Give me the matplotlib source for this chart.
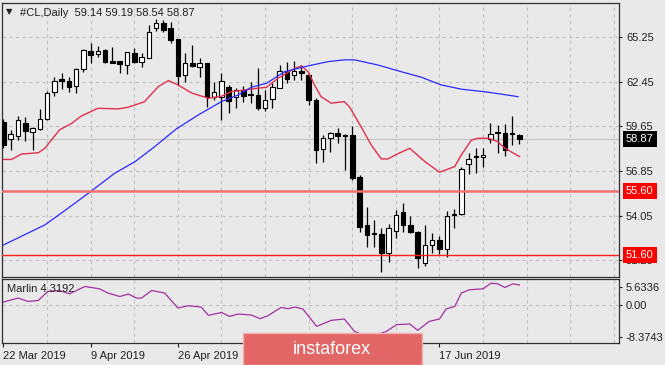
import numpy as np
import matplotlib
matplotlib.use("Agg")
import matplotlib.pyplot as plt
from matplotlib.patches import Rectangle

plt.rcParams['font.family'] = ['Liberation Sans', 'DejaVu Sans']

# ================= 1. 数据 =================
opens = [59.95, 58.87, 59.05, 59.85, 59.32, 59.49, 60.14, 61.82, 62.63, 62.53,
         62.19, 63.28, 64.39, 64.20, 64.45, 63.76, 63.78, 63.51, 64.28, 63.72,
         63.97, 65.81, 66.13, 65.81, 65.12, 62.88, 63.66, 63.37, 63.62, 61.52,
         61.48, 62.15, 61.48, 61.94, 61.69, 61.63, 60.83, 61.36, 62.09, 63.09,
         62.88, 63.15, 62.88, 61.31, 58.24, 58.91, 59.26, 59.12, 59.12, 56.46,
         53.47, 52.95, 52.88, 51.69, 53.11, 54.30, 53.47, 53.05, 51.10, 52.21,
         52.52, 51.96, 54.09, 54.14, 57.30, 57.78, 57.75, 58.85, 59.22, 59.22,
         59.26, 59.14]
highs = [60.10, 59.43, 60.31, 60.23, 59.64, 60.73, 61.88, 62.78, 62.99, 62.78,
         63.30, 64.50, 64.87, 64.70, 64.50, 64.62, 63.78, 64.35, 64.56, 64.25,
         66.02, 66.38, 66.34, 66.23, 65.14, 64.28, 64.77, 63.93, 63.66, 62.46,
         62.99, 62.26, 62.05, 62.19, 62.46, 63.30, 61.94, 62.36, 63.51, 63.72,
         63.76, 63.51, 62.99, 61.42, 59.12, 59.32, 59.58, 59.16, 59.70, 56.61,
         54.62, 53.78, 53.26, 53.51, 54.41, 54.83, 54.03, 53.09, 53.47, 52.95,
         52.78, 54.36, 54.45, 57.13, 57.97, 58.28, 58.28, 59.89, 59.74, 59.81,
         60.31, 59.19]
lows = [58.30, 58.18, 58.80, 58.76, 58.18, 59.43, 60.06, 61.57, 62.00, 61.84,
        61.77, 63.05, 63.62, 64.03, 63.62, 63.62, 62.99, 62.95, 63.62, 63.40,
        63.93, 65.66, 65.60, 64.87, 62.26, 62.46, 63.40, 62.78, 60.89, 61.31,
        60.06, 60.48, 60.79, 61.21, 61.11, 60.69, 60.62, 60.79, 62.05, 62.36,
        62.57, 62.57, 61.00, 57.34, 57.44, 58.07, 58.60, 56.92, 56.29, 53.05,
        52.10, 52.10, 50.54, 51.16, 52.63, 53.05, 52.95, 50.75, 50.89, 51.69,
        51.65, 51.48, 53.26, 54.10, 56.67, 56.75, 57.13, 58.60, 57.97, 57.80,
        58.49, 58.54]
closes = [58.50, 59.16, 60.06, 59.39, 59.53, 60.10, 61.77, 62.53, 62.49, 62.15,
          63.24, 64.45, 64.14, 64.41, 63.68, 63.66, 63.56, 64.31, 63.72, 63.99,
          65.60, 66.13, 65.71, 65.08, 62.82, 63.62, 63.45, 63.66, 61.52, 61.84,
          62.51, 61.27, 61.94, 61.56, 61.61, 60.79, 61.31, 62.15, 63.15, 62.63,
          63.13, 62.99, 61.31, 58.18, 58.95, 59.26, 59.05, 59.04, 56.40, 53.36,
          52.84, 52.88, 51.69, 53.26, 54.10, 53.47, 53.05, 51.38, 52.21, 52.52,
          51.96, 54.05, 54.11, 56.96, 57.59, 57.72, 57.86, 59.18, 59.29, 58.18,
          59.16, 58.87]

# 红色均线
ma_fast_x = [0, 1.1, 2.5, 4.8, 5.7, 6.6, 7.7, 9.4, 10.7, 13.0, 15.8, 17.2, 19.4,
             21.3, 22.7, 24.0, 25.9, 28.2, 30.0, 31.4, 33.2, 35.0, 36.2, 37.8,
             40.1, 41.0, 41.9, 42.8, 43.7, 45.1, 46.9, 47.6, 49.2, 50.6, 52.0,
             52.9, 54.1, 55.9, 58.0, 60.0, 62.1, 63.0, 64.4, 65.3, 66.7, 68.0,
             69.0, 71.0]
ma_fast_y = [57.58, 57.58, 57.92, 58.00, 58.28, 58.80, 59.43, 59.85, 60.30,
             60.79, 60.75, 60.86, 61.20, 62.15, 62.53, 62.26, 61.75, 61.42,
             61.55, 61.84, 61.94, 62.05, 62.11, 62.68, 63.30, 63.45, 63.09,
             62.26, 61.52, 61.11, 61.21, 60.89, 59.64, 58.49, 57.61, 57.61,
             57.90, 58.28, 57.44, 56.78, 57.13, 57.86, 58.80, 58.91, 58.91,
             58.70, 58.28, 57.76]

# 蓝色均线
ma_slow_x = [0, 5.7, 8.9, 12.1, 15.3, 18.1, 20.8, 23.8, 26.8, 30.0, 32.3, 34.1,
             36.2, 38.7, 41.9, 44.7, 46.9, 48.3, 51.5, 54.7, 57.5, 60.2, 63.0,
             66.7, 70.8]
ma_slow_y = [52.21, 53.47, 54.52, 55.60, 56.71, 57.44, 58.38, 59.50, 60.37,
             61.21, 61.63, 62.11, 62.36, 63.09, 63.45, 63.72, 63.83, 63.83,
             63.51, 63.09, 62.74, 62.26, 61.99, 61.80, 61.52]

# Marlin 指标
marlin_x = [0, 2.0, 3.4, 4.8, 6.1, 7.7, 9.1, 11.2, 13.2, 14.4, 16.0, 17.2, 18.3,
            19.0, 20.4, 22.2, 24.0, 25.4, 27.2, 28.2, 30.0, 31.1, 32.3, 34.1,
            35.3, 36.4, 38.2, 39.2, 40.1, 41.2, 43.1, 45.1, 46.9, 48.3, 50.3,
            52.7, 54.1, 55.9, 57.0, 58.6, 60.0, 60.9, 62.1, 63.0, 64.1, 66.0,
            67.1, 68.0, 69.0, 70.1, 71.0]
marlin_y = [0.59, 1.46, 0.72, 0.94, 2.90, 3.12, 2.40, 3.99, 3.49, 2.55, 1.81,
            2.33, 1.46, 1.46, 3.12, 2.55, -0.72, -0.22, -0.50, -2.33, -1.68,
            -2.55, -2.03, -2.25, -3.05, -2.40, -0.59, -0.87, -0.50, -0.94,
            -4.73, -3.42, -3.12, -5.82, -7.19, -5.82, -4.36, -4.21, -5.60,
            -3.64, -3.12, -0.94, -0.37, 2.55, 3.27, 3.49, 4.73, 4.58, 3.77,
            4.58, 4.32]

price_ticks = [65.25, 62.45, 59.65, 56.85, 54.05, 51.25]
level_lines = [55.60, 51.60]
last_price = 58.87
# 中间两个日期被横幅遮住，不显示文字
date_pos = [0, 12, 24, 36, 48, 60]
date_labels = ["22 Mar 2019", "9 Apr 2019", "26 Apr 2019", "", "", "17 Jun 2019"]
osc_ticks = [3.95, 0.0, -7.0]
osc_labels = ["5.6336", "0.00", "-8.3743"]

# ================= 2. 画布 =================
W, H = 665, 365
BG = '#e9e9e9'
GRID = '#c2c2c2'
fig = plt.figure(figsize=(W / 100, H / 100), dpi=100, facecolor=BG)

def fx(px):
    return px / W

def fy(py):
    return 1 - py / H

ax = fig.add_axes([fx(2), fy(277), fx(619) - fx(2), fy(2.5) - fy(277)], facecolor=BG)
ax2 = fig.add_axes([fx(2), fy(343), fx(619) - fx(2), fy(279) - fy(343)], facecolor=BG)

XMIN, XMAX = -0.2, 84.7
grid_x = np.arange(6, 85, 6)

for a in (ax, ax2):
    a.set_xlim(XMIN, XMAX)
    for s in a.spines.values():
        s.set_color('#303030')
        s.set_linewidth(0.9)
    a.yaxis.tick_right()
    a.tick_params(axis='y', direction='out', length=2.5, width=0.8, pad=2.5,
                  labelsize=8, colors='#202020')
    a.set_xticks(grid_x, minor=True)
    a.tick_params(axis='x', which='minor', length=0)
    a.grid(True, axis='x', which='minor', ls=(0, (3, 3)), color=GRID, lw=0.8)
    a.set_axisbelow(True)

# ================= 3. K线 =================
o = np.array(opens)
h = np.array(highs)
l = np.array(lows)
c = np.array(closes)
idx = np.arange(len(o))
up = c >= o

ax.set_ylim(50.2, 67.43)
ax.set_yticks(price_ticks)
ax.set_yticklabels([f"{v:.2f}" for v in price_ticks])
ax.set_xticks([])
ax.grid(True, axis='y', ls=(0, (3, 3)), color=GRID, lw=0.8)

ax.axhline(last_price, color='#c4c4c4', lw=0.9, zorder=1)

ax.vlines(idx, l, h, color='black', lw=0.9, zorder=3)
body_bottom = np.minimum(o, c)
body_h = np.maximum(np.abs(c - o), 0.06)
ax.bar(idx, body_h, bottom=body_bottom, width=0.62,
       color=np.where(up, 'white', 'black'), edgecolor='black', lw=0.8, zorder=4)

ax.plot(ma_fast_x, ma_fast_y, color='#e0304c', lw=1.0, zorder=5)
ax.plot(ma_slow_x, ma_slow_y, color='#2a2aff', lw=0.9, zorder=5)

ax.axhline(level_lines[0], color='#f07272', lw=1.8, zorder=6)
ax.axhline(level_lines[1], color='#ff2020', lw=1.0, zorder=6)

# 右侧价格标签
tr = ax.get_yaxis_transform()
for val, fc in [(last_price, 'black'), (level_lines[0], '#ff0000'), (level_lines[1], '#ff0000')]:
    ax.text(1.0113, val, f"{val:.2f}", transform=tr, ha='left', va='center',
            fontsize=8, color='white', clip_on=False, zorder=10,
            bbox=dict(boxstyle='square,pad=0.28', fc=fc, ec='none'))

# ================= 4. Marlin 指标 =================
ax2.set_ylim(-8.3743, 5.6336)
ax2.set_yticks(osc_ticks)
ax2.set_yticklabels(osc_labels)
ax2.axhline(0, ls=(0, (3, 3)), color=GRID, lw=0.8, zorder=0)
ax2.plot(marlin_x, marlin_y, color='#a22fa2', lw=0.9)

ax2.set_xticks(date_pos)
ax2.set_xticklabels(date_labels)
ax2.tick_params(axis='x', which='major', direction='out', length=3, width=0.8,
                pad=3, labelsize=8, colors='#202020')
for t in ax2.get_xticklabels():
    t.set_ha('left')

# ================= 5. 文字 =================
fig.text(fx(6), fy(12), "\u25BC", fontsize=6, family='DejaVu Sans',
         va='center', ha='left', color='#202020')
fig.text(fx(20), fy(12.5), "#CL,Daily  59.14 59.19 58.54 58.87", fontsize=8,
         va='center', ha='left', color='#202020')
fig.text(fx(7), fy(289), "Marlin 4.3192", fontsize=8, va='center', ha='left',
         color='#202020')

# instaforex 横幅
banner = Rectangle((fx(243), 0), fx(422) - fx(243), (365 - 333) / H,
                   transform=fig.transFigure, fc='#e36666', ec='#f3b0b0',
                   lw=1, zorder=20)
fig.add_artist(banner)
fig.text(fx(332), fy(350), "instaforex", fontsize=13, color='white',
         ha='center', va='center', zorder=21)

fig.savefig("out.png", dpi=100, facecolor=BG)
